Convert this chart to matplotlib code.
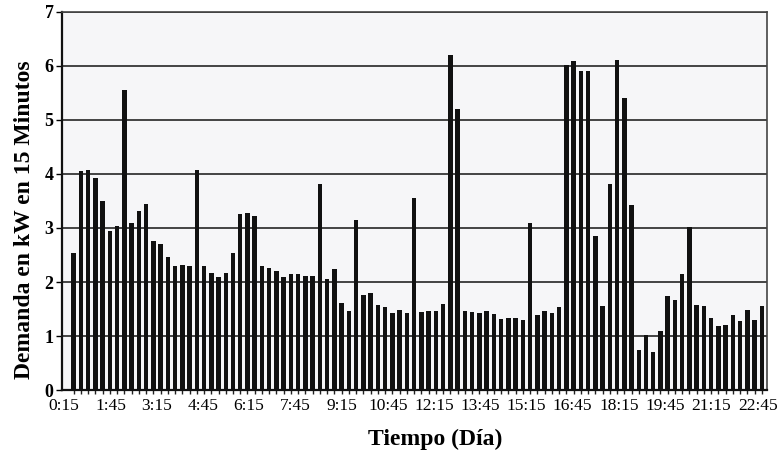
import numpy as np
import matplotlib
matplotlib.use("Agg")
import matplotlib.pyplot as plt

# 15-minute demand values (kW), 0:15 .. 24:00
demand = [
    2.53, 4.06, 4.07, 3.93, 3.50, 2.95, 3.03, 5.56, 3.10, 3.32,
    3.45, 2.76, 2.71, 2.46, 2.29, 2.31, 2.29, 4.08, 2.29, 2.16,
    2.10, 2.16, 2.54, 3.26, 3.27, 3.23, 2.29, 2.26, 2.21, 2.10,
    2.15, 2.14, 2.12, 2.12, 3.82, 2.06, 2.25, 1.62, 1.46, 3.15,
    1.76, 1.80, 1.57, 1.54, 1.42, 1.48, 1.43, 3.56, 1.45, 1.47,
    1.47, 1.59, 6.20, 5.20, 1.47, 1.45, 1.43, 1.47, 1.41, 1.31,
    1.33, 1.34, 1.30, 3.09, 1.38, 1.47, 1.42, 1.53, 6.02, 6.09,
    5.91, 5.91, 2.85, 1.56, 3.81, 6.12, 5.41, 3.42, 0.74, 1.02,
    0.71, 1.10, 1.74, 1.67, 2.15, 3.01, 1.57, 1.56, 1.34, 1.19,
    1.20, 1.38, 1.28, 1.48, 1.30, 1.56,
]
tick_labels = ["0:15", "1:45", "3:15", "4:45", "6:15", "7:45", "9:15", "10:45",
               "12:15", "13:45", "15:15", "16:45", "18:15", "19:45", "21:15", "22:45"]
y_ticks = [0, 1, 2, 3, 4, 5, 6, 7]

plt.rcParams['font.family'] = ['Liberation Serif', 'DejaVu Serif']

fig = plt.figure(figsize=(7.79, 4.59), dpi=100)
fig.patch.set_facecolor('white')
ax = fig.add_axes([0.0796, 0.1503, 0.905, 0.8236])
ax.set_facecolor('#f6f6f8')

x = np.arange(len(demand))
ax.bar(x, demand, width=0.62, color='#111111', zorder=3)

ax.set_xlim(-1.6, 95.7)
ax.set_ylim(0, 7)
ax.set_yticks(y_ticks)
ax.set_yticklabels([str(v) for v in y_ticks], fontsize=13, fontweight='bold')
ax.yaxis.grid(True, color='#444444', linewidth=1.4, zorder=1)
ax.set_axisbelow(True)

ax.set_xticks(np.linspace(-1.3, 94.4, len(tick_labels)))
ax.set_xticklabels(tick_labels, fontsize=12.5)
ax.tick_params(axis='x', which='major', length=0, pad=6)
ax.set_xticks(x, minor=True)
ax.tick_params(axis='x', which='minor', length=3, width=1, color='#222222', direction='out')
ax.tick_params(axis='y', length=4, width=1, pad=2)

for s in ['left', 'bottom']:
    ax.spines[s].set_linewidth(1.6)
    ax.spines[s].set_color('#111111')
for s in ['top', 'right']:
    ax.spines[s].set_linewidth(1.2)
    ax.spines[s].set_color('#444444')

ax.set_ylabel("Demanda en kW en 15 Minutos", fontsize=17, fontweight='bold')
ax.yaxis.set_label_coords(-0.038, 0.45)
ax.set_xlabel("Tiempo (Día)", fontsize=17, fontweight='bold')
ax.xaxis.set_label_coords(0.53, -0.103)

fig.savefig("out.png", dpi=100)
